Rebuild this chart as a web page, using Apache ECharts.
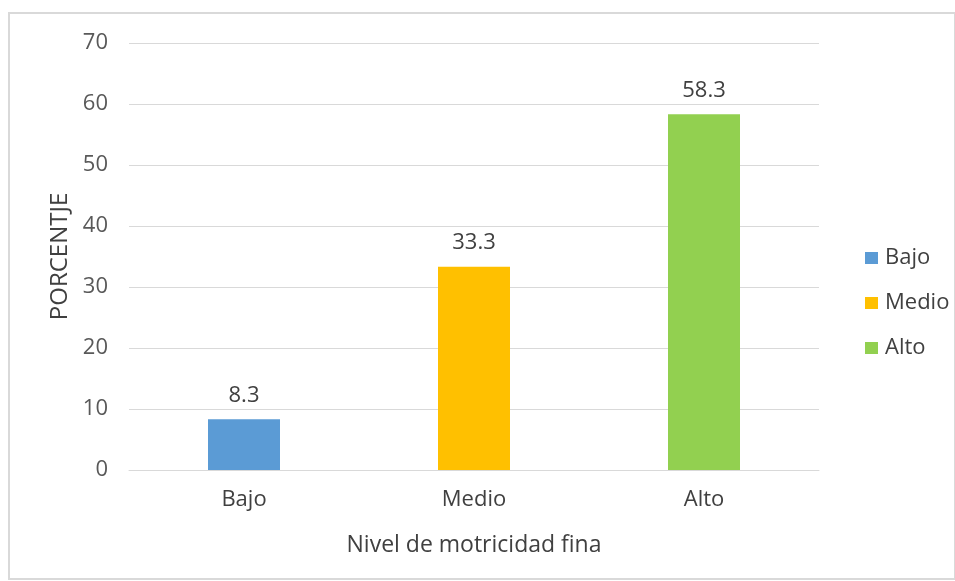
<!DOCTYPE html>
<html>
<head>
<meta charset="utf-8">
<script src="https://cdn.jsdelivr.net/npm/echarts@6/dist/echarts.min.js"></script>
<style>
  html, body { margin: 0; padding: 0; background: #fff; }
  #chart { width: 955px; height: 581px; }
</style>
</head>
<body>
<div id="chart"></div>
<script>
// niveles y porcentajes
var categories = ['Bajo', 'Medio', 'Alto']
var bajoValues = [8.3, null, null]
var medioValues = [null, 33.3, null]
var altoValues = [null, null, 58.3]
var yTicks = [0, 70, 10] // min, max, interval

var colors = ['#5b9bd5', '#ffc000', '#92d050']
var font = 'Open Sans'

var myChart = echarts.init(document.getElementById('chart'))

function barSeries (name, data, color) {
  return {
    name: name,
    type: 'bar',
    data: data,
    barWidth: 72,
    barGap: '-100%',
    itemStyle: { color: color },
    label: {
      show: true,
      position: 'top',
      distance: 13,
      color: '#404040',
      fontSize: 22,
      fontFamily: font
    }
  }
}

var option = {
  animation: false,
  graphic: [{
    type: 'rect',
    shape: { x: 9, y: 13, width: 946, height: 566 },
    style: { fill: 'none', stroke: '#d9d9d9', lineWidth: 2 }
  }],
  grid: {
    left: 129,
    right: 136,
    top: 43,
    bottom: 111
  },
  legend: {
    orient: 'vertical',
    left: 860,
    top: 242,
    itemWidth: 13,
    itemHeight: 12,
    itemGap: 23,
    icon: 'rect',
    textStyle: { color: '#404040', fontSize: 22, fontFamily: font, padding: [0, 0, 0, 2] },
    data: categories
  },
  xAxis: {
    type: 'category',
    data: categories,
    name: 'Nivel de motricidad fina',
    nameLocation: 'middle',
    nameGap: 64,
    nameTextStyle: { color: '#404040', fontSize: 23, fontFamily: font },
    axisLine: { lineStyle: { color: '#d9d9d9', width: 1 } },
    axisTick: { show: false },
    axisLabel: { color: '#404040', fontSize: 22, fontFamily: font, margin: 19 }
  },
  yAxis: {
    type: 'value',
    min: yTicks[0],
    max: yTicks[1],
    interval: yTicks[2],
    name: 'PORCENTJE',
    nameLocation: 'middle',
    nameGap: 50,
    nameTextStyle: { color: '#404040', fontSize: 24, fontFamily: font },
    axisLine: { show: false },
    axisTick: { show: false },
    splitLine: { lineStyle: { color: '#d9d9d9', width: 1 } },
    axisLabel: { color: '#595959', fontSize: 22, fontFamily: font, margin: 21 }
  },
  series: [
    barSeries('Bajo', bajoValues, colors[0]),
    barSeries('Medio', medioValues, colors[1]),
    barSeries('Alto', altoValues, colors[2])
  ]
}

myChart.setOption(option)
</script>
</body>
</html>
